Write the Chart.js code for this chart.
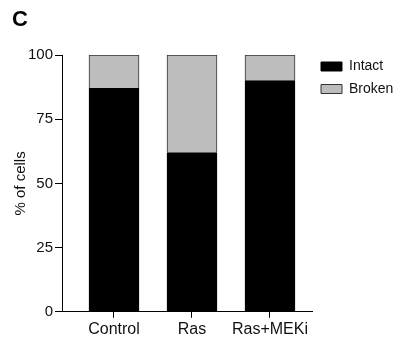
<!DOCTYPE html>
<html><head><meta charset="utf-8">
<script src="https://cdn.jsdelivr.net/npm/chart.js@4"></script>
<style>html,body{margin:0;padding:0;background:#fff}canvas{display:block}</style>
</head><body>
<canvas id="c" width="393" height="343"></canvas>
<script>
const categories = ['Control', 'Ras', 'Ras+MEKi'];
const intact = [87, 62, 90];
const broken = [13, 38, 10];
const yTicks = [0, 25, 50, 75, 100];
const seriesNames = ['Intact', 'Broken'];
const panelLabel = 'C';
const yTitle = '% of cells';

Chart.defaults.font.family = "'Liberation Sans', Arial, Helvetica, sans-serif";
Chart.defaults.color = '#111';

const toPoints = arr => arr.map((v, i) => ({x: i, y: v}));

new Chart(document.getElementById('c'), {
  type: 'bar',
  data: {datasets: [
    {label: seriesNames[0], data: toPoints(intact), backgroundColor: '#000', borderColor: '#000', borderWidth: 1, barThickness: 50},
    {label: seriesNames[1], data: toPoints(broken), backgroundColor: '#bdbdbd', borderColor: '#333', borderWidth: 1, barThickness: 50}
  ]},
  options: {
    responsive: false, animation: false, devicePixelRatio: 1,
    layout: {padding: {left: 12, top: 0, right: -10, bottom: 2}},
    plugins: {
      title: {display: true, text: panelLabel, align: 'start', font: {size: 22, weight: 'bold'}, color: '#000', padding: {top: 7, bottom: 21.6}},
      legend: {position: 'right', align: 'start', maxWidth: 90.5,
        title: {display: true, text: '', font: {size: 11, lineHeight: 1}, padding: {top: 40, bottom: 0}},
        labels: {boxWidth: 21, boxHeight: 9, padding: 8.5, font: {size: 14}, color: '#111'}},
      tooltip: {enabled: false}
    },
    scales: {
      x: {type: 'linear', stacked: true, min: -0.6667, max: 2.545, bounds: 'data', offset: false,
        afterBuildTicks: s => { s.ticks = categories.map((_, i) => ({value: i})); },
        ticks: {callback: v => categories[v], font: {size: 16}, color: '#111', padding: 2, autoSkip: false, maxRotation: 0},
        grid: {display: true, drawOnChartArea: false, drawTicks: true, tickLength: 6, color: '#000', offset: false},
        border: {display: true, color: '#000', width: 1}},
      y: {stacked: true, min: 0, max: 100,
        afterBuildTicks: s => { s.ticks = yTicks.map(v => ({value: v})); },
        afterFit: s => { s.width = 50; },
        ticks: {font: {size: 15}, color: '#111', padding: 2},
        grid: {drawOnChartArea: false, tickLength: 7, color: '#000'},
        border: {display: true, color: '#000', width: 1},
        title: {display: true, text: yTitle, font: {size: 15}, color: '#111', padding: {top: 0, bottom: 0}}}
    }
  }
});
</script></body></html>
